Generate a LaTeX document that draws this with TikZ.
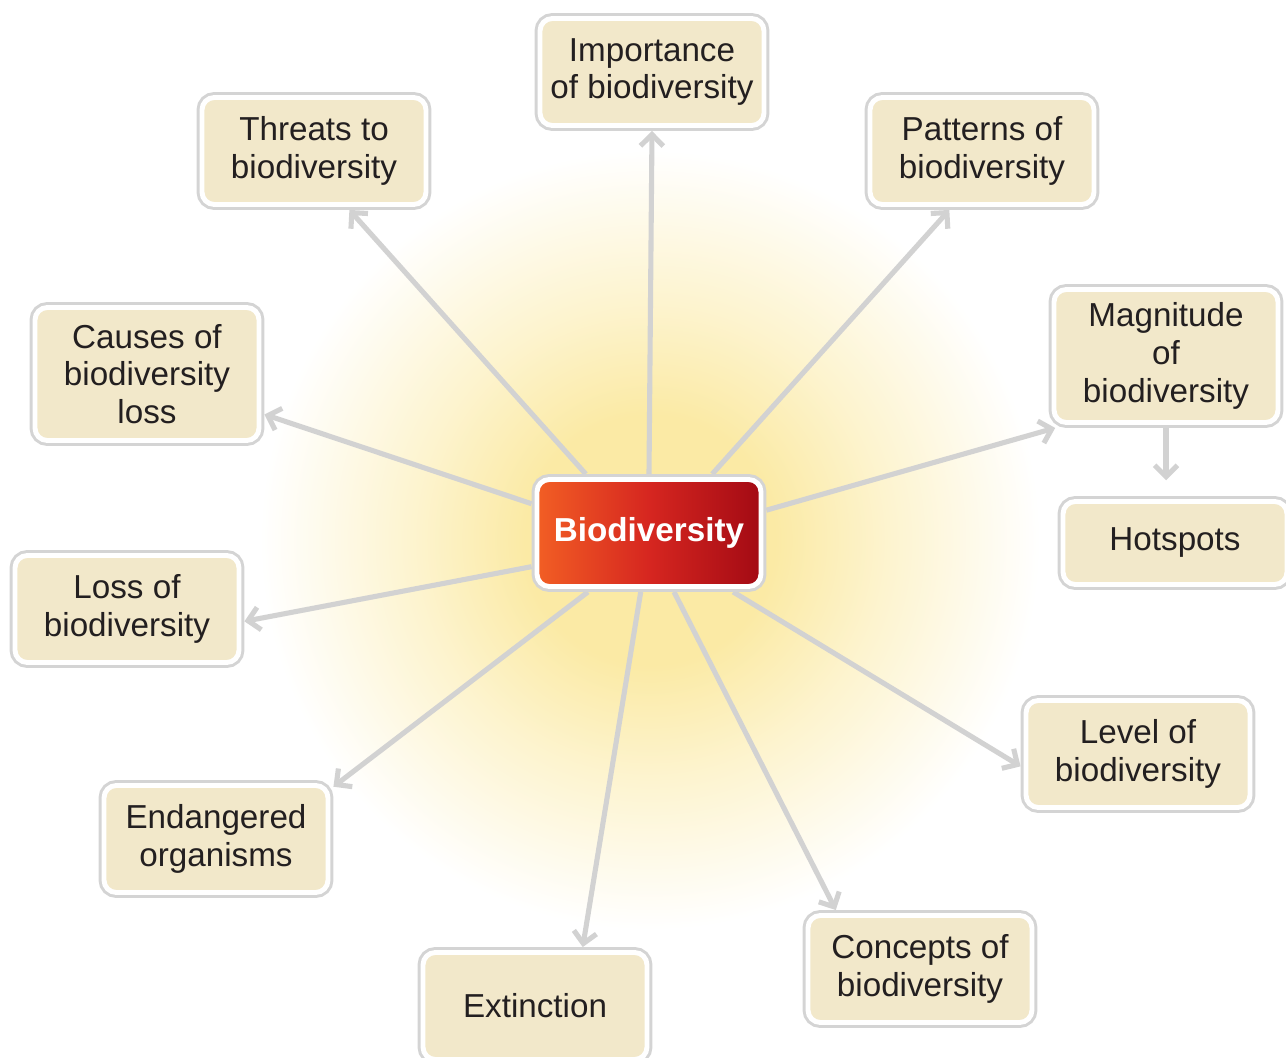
\documentclass[tikz,border=0pt]{standalone}
\usepackage{fontspec}
\setmainfont{Liberation Sans}
\usetikzlibrary{arrows.meta,backgrounds,calc}
\definecolor{boxfill}{RGB}{242,232,202}
\definecolor{ringgray}{RGB}{212,212,212}
\definecolor{linkgray}{RGB}{210,210,210}
\definecolor{textdark}{RGB}{35,31,32}
\definecolor{sunyellow}{RGB}{251,234,165}
\definecolor{bioleft}{RGB}{242,94,36}
\definecolor{biomid}{RGB}{214,38,32}
\definecolor{bioright}{RGB}{163,10,20}
\pgfdeclareradialshading{sunglow}{\pgfpoint{0bp}{0bp}}{color(0bp)=(sunyellow); color(8bp)=(sunyellow); color(15bp)=(sunyellow!55); color(25bp)=(white); color(50bp)=(white)}
\def \boxW {4.48cm}
\def \boxH {2.14cm}
\tikzset{
 	topicblock/.style= {preaction={draw=ringgray, line width=6.2pt}, draw=white, line width=2.8pt, fill=boxfill, rectangle, rounded corners=7pt, align=center, minimum width=\boxW, minimum height=\boxH, inner sep=0pt, outer sep=3.1pt, text=textdark, font=\fontsize{18.9}{21.5}\selectfont},
 	tallblock/.style= {topicblock, minimum height=2.66cm},
 	shortblock/.style= {topicblock, minimum height=1.66cm},
 	mainblock/.style= {topicblock, left color=bioleft, right color=bioright, middle color=biomid, text=white, font=\fontsize{18.9}{21.5}\selectfont\bfseries},
 	link/.style= {draw=linkgray, line width=2.9pt, -{Straight Barb[length=6.5pt, width=13pt]}}
 }
\begin{document}
\begin{tikzpicture}[x=0.02cm, y=-0.02cm]
\useasboundingbox (0,0) rectangle (1286,1058);

%%%%%%%%%%%%%%%%%%%%% Nodes %%%%%%%%%%%%%%%%%%%%%
	\node [mainblock] (bio) at (649,533) {Biodiversity};
	\node [topicblock] (importance) at (652,72) {Importance\\of biodiversity};
	\node [topicblock] (threats) at (314,151) {Threats to\\biodiversity};
	\node [topicblock] (patterns) at (982,151) {Patterns of\\biodiversity};
	\node [tallblock] (magnitude) at (1166,356) {Magnitude\\of\\biodiversity};
	\node [shortblock] (hotspots) at (1175,543) {Hotspots};
	\node [tallblock] (causes) at (147,374) {Causes of\\biodiversity\\loss};
	\node [topicblock] (loss) at (127,609) {Loss of\\biodiversity};
	\node [topicblock] (endangered) at (216,839) {Endangered\\organisms};
	\node [topicblock] (extinction) at (535,1006) {Extinction};
	\node [topicblock] (concepts) at (920,969) {Concepts of\\biodiversity};
	\node [topicblock] (level) at (1138,754) {Level of\\biodiversity};

%%%%%%%%%%%%%%%%%%%%% Links %%%%%%%%%%%%%%%%%%%%%
\begin{scope}[on background layer]
	\shade [shading=sunglow] (650,540) circle (7.8cm);
	\draw [link] (bio.north) -- (importance.south);
	\draw [link] (bio.137) -- (threats.-59);
	\draw [link] (bio.43) -- (patterns.241);
	\draw [link] (bio.11) -- (magnitude.213);
	\draw [link, shorten >=9pt] (magnitude.south) -- (magnitude.south |- hotspots.north);
	\draw [link] (bio.166) -- (causes.-19);
	\draw [link] (bio.196) -- (loss.-6);
	\draw [link] (bio.224) -- (endangered.24);
	\draw [link] (bio.262) -- (extinction.51);
	\draw [link] (bio.293) -- (concepts.145);
	\draw [link] (bio.325) -- (level.186);
\end{scope}

\end{tikzpicture}
\end{document}
